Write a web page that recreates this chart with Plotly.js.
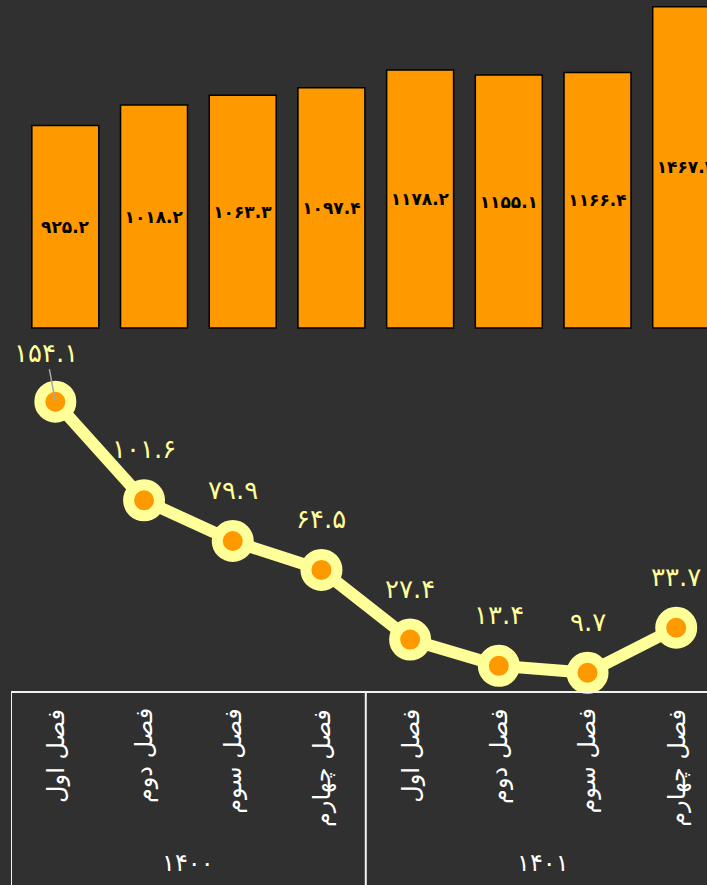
<!DOCTYPE html>
<html>
<head>
<meta charset="utf-8">
<script src="https://cdn.plot.ly/plotly-3.0.1.min.js"></script>
<style>
  html, body { margin: 0; padding: 0; background: #303030; }
  #chart { width: 707px; height: 885px; }
</style>
</head>
<body>
<div id="chart"></div>
<script>
// ---- data ----
const years = ['۱۴۰۰', '۱۴۰۱'];
const quarters = ['فصل اول', 'فصل دوم', 'فصل سوم', 'فصل چهارم',
                  'فصل اول', 'فصل دوم', 'فصل سوم', 'فصل چهارم'];
const barValues = [925.2, 1018.2, 1063.3, 1097.4, 1178.2, 1155.1, 1166.4, 1467.2];
const lineValues = [154.1, 101.6, 79.9, 64.5, 27.4, 13.4, 9.7, 33.7];

// ---- helpers ----
const faDigits = '۰۱۲۳۴۵۶۷۸۹';
function toFa(v) {
  return v.toFixed(1).replace(/[0-9]/g, d => faDigits[+d]);
}
const idx = quarters.map((_, i) => i);
const FONT = 'DejaVu Sans, Noto Sans, sans-serif';

const barTrace = {
  type: 'bar',
  x: idx,
  y: barValues,
  width: 0.755,
  offset: -0.265,
  marker: { color: '#FF9900', line: { color: '#000000', width: 1.5 } },
  text: barValues.map(toFa),
  textposition: 'inside',
  insidetextanchor: 'middle',
  textangle: 0,
  constraintext: 'none',
  textfont: { family: FONT, size: 17, color: '#000000', weight: 'bold' },
  hoverinfo: 'skip',
  yaxis: 'y'
};

const lineTrace = {
  type: 'scatter',
  mode: 'lines+markers',
  x: idx,
  y: lineValues,
  yaxis: 'y2',
  line: { color: '#FFFF99', width: 12 },
  marker: { color: '#FF9900', size: 31, line: { color: '#FFFF99', width: 11 } },
  cliponaxis: false,
  hoverinfo: 'skip'
};

const annotations = [];
// line value labels
lineValues.forEach((v, i) => {
  if (i === 0) {
    annotations.push({
      xref: 'x', yref: 'y2', x: i, y: v,
      text: toFa(v), showarrow: true, arrowhead: 0, arrowwidth: 1.5,
      arrowcolor: '#A6A6A6', ax: -9, ay: -49, standoff: 0,
      font: { family: FONT, size: 26, color: '#FFFF99' }
    });
  } else {
    annotations.push({
      xref: 'x', yref: 'y2', x: i, y: v,
      text: toFa(v), showarrow: false, yshift: 51,
      font: { family: FONT, size: 26, color: '#FFFF99' }
    });
  }
});
// quarter labels (rotated)
quarters.forEach((q, i) => {
  annotations.push({
    xref: 'x', yref: 'paper', x: i, y: -0.0225,
    text: q, showarrow: false, textangle: -90,
    xanchor: 'center', yanchor: 'top',
    font: { family: FONT, size: 24, color: '#FFFFFF' }
  });
});
// year labels
years.forEach((yr, g) => {
  annotations.push({
    xref: 'x', yref: 'paper', x: g * 4 + 1.5, y: -0.272,
    text: yr, showarrow: false,
    font: { family: FONT, size: 24, color: '#FFFFFF' }
  });
});

// table dividers (group boundaries)
const shapes = years.map((_, g) => ({
  type: 'line', xref: 'x', yref: 'paper',
  x0: g * 4 - 0.5, x1: g * 4 - 0.5, y0: 0, y1: -0.3,
  line: { color: '#F2F2F2', width: 2 }
}));

const layout = {
  width: 707,
  height: 885,
  margin: { l: 11, r: 0, t: 0, b: 194, pad: 0 },
  paper_bgcolor: '#303030',
  plot_bgcolor: '#303030',
  showlegend: false,
  xaxis: {
    type: 'linear',
    range: [-0.5, 7.347],
    showgrid: false, zeroline: false, showticklabels: false, ticks: '',
    showline: true, linecolor: '#F2F2F2', linewidth: 2, fixedrange: true
  },
  yaxis: {
    range: [-1657.5, 1497.7],
    visible: false, showgrid: false, zeroline: false, fixedrange: true
  },
  yaxis2: {
    range: [0, 368.1],
    overlaying: 'y', side: 'right',
    visible: false, showgrid: false, zeroline: false, fixedrange: true
  },
  annotations: annotations,
  shapes: shapes
};

Plotly.newPlot('chart', [barTrace, lineTrace], layout, { staticPlot: true, displayModeBar: false });
</script>
</body>
</html>
